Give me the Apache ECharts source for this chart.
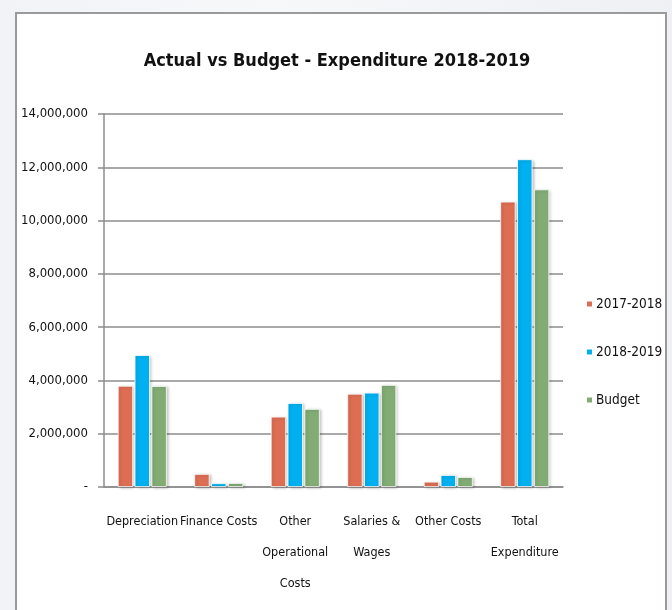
<!DOCTYPE html>
<html>
<head>
<meta charset="utf-8">
<script src="https://cdn.jsdelivr.net/npm/echarts@6/dist/echarts.min.js"></script>
<style>
  html, body { margin: 0; padding: 0; width: 672px; height: 610px; overflow: hidden;
    background: linear-gradient(90deg, #f1f3f7 0%, #f7f8fa 40%, #eef0f4 100%); }
  #frame { position: absolute; left: 15px; top: 12px; width: 652px; height: 610px;
    background: #fff; border: 2px solid #9a9a9a; border-bottom: none; box-sizing: border-box; }
  #chart { position: absolute; left: 0; top: 0; width: 672px; height: 610px; }
</style>
</head>
<body>
<div id="frame"></div>
<div id="chart"></div>
<script>
var categories = ["Depreciation", "Finance Costs", "Other\nOperational\nCosts", "Salaries &\nWages", "Other Costs", "Total\nExpenditure"];
var seriesNames = ["2017-2018", "2018-2019", "Budget"];
var values2017 = [3800000, 490000, 2640000, 3500000, 200000, 10710000];
var values2018 = [4950000, 140000, 3150000, 3540000, 450000, 12300000];
var valuesBudget = [3790000, 150000, 2930000, 3830000, 375000, 11170000];
var yTicks = [0, 2000000, 4000000, 6000000, 8000000, 10000000, 12000000, 14000000];
var colors = ["#dd6e54", "#00b0f0", "#82ac74"];

var FONT = "'Liberation Sans Narrow', 'Arial Narrow', 'DejaVu Sans Condensed', sans-serif";
var chart = echarts.init(document.getElementById('chart'), null, { renderer: 'canvas' });

function mkSeries(name, data, color) {
  return {
    name: name, type: 'bar', data: data,
    barGap: '10%', barCategoryGap: '36%',
    itemStyle: { color: color, borderColor: '#ffffff', borderWidth: 0.8,
      shadowColor: 'rgba(0,0,0,0.22)', shadowBlur: 3, shadowOffsetX: 1.5, shadowOffsetY: 1 },
    emphasis: { disabled: true }
  };
}

chart.setOption({
  backgroundColor: 'transparent',
  animation: false,
  color: colors,
  title: {
    text: 'Actual vs Budget - Expenditure 2018-2019',
    left: 332, top: 47, textAlign: 'center',
    textStyle: { fontFamily: FONT, fontWeight: 'bold', fontSize: 18, color: '#111' }
  },
  legend: {
    orient: 'vertical', left: 580, top: 292,
    itemWidth: 7, itemHeight: 7, itemGap: 34,
    icon: 'rect',
    textStyle: { fontFamily: FONT, fontSize: 13.5, color: '#111', padding: [0, 0, 0, -2] },
    data: seriesNames
  },
  grid: { left: 104, right: 109, top: 114, bottom: 123, containLabel: false },
  xAxis: {
    type: 'category', data: categories,
    axisLine: { lineStyle: { color: '#8c8c8c', width: 1.5 } },
    axisTick: { show: false },
    axisLabel: { fontFamily: FONT, fontSize: 12.5, color: '#111', lineHeight: 31, margin: 19, interval: 0 }
  },
  yAxis: {
    type: 'value', min: 0, max: 14000000, interval: 2000000,
    axisLine: { show: true, lineStyle: { color: '#8c8c8c', width: 1.5 } },
    axisTick: { show: true, length: 6, lineStyle: { color: '#8c8c8c', width: 1.5 } },
    splitLine: { lineStyle: { color: '#8c8c8c', width: 1.5 } },
    axisLabel: {
      fontFamily: FONT, fontSize: 13, color: '#111', margin: 16,
      formatter: function (v) { return v === 0 ? '-' : v.toLocaleString('en-US'); }
    }
  },
  series: [
    mkSeries(seriesNames[0], values2017, colors[0]),
    mkSeries(seriesNames[1], values2018, colors[1]),
    mkSeries(seriesNames[2], valuesBudget, colors[2])
  ]
});
</script>
</body>
</html>
